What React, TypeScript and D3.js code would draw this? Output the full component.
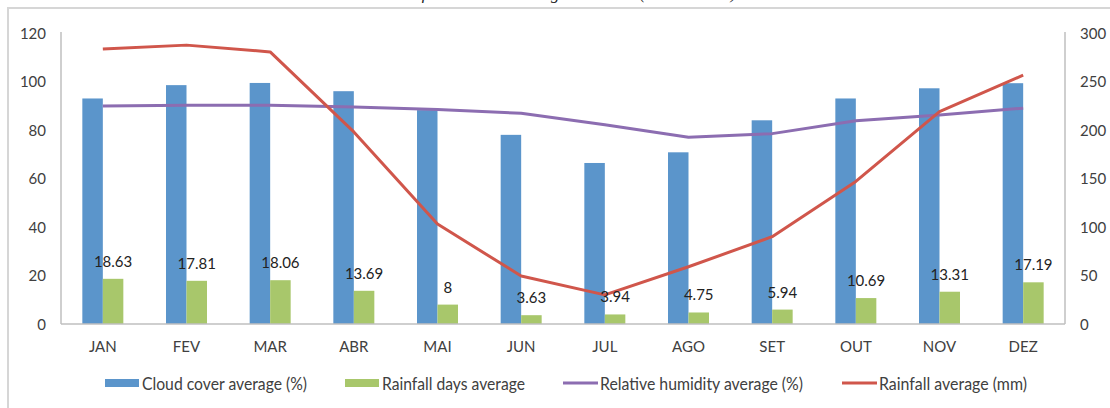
import React from "react";
import * as d3 from "d3";

// Monthly climate normals
const months = ["JAN", "FEV", "MAR", "ABR", "MAI", "JUN", "JUL", "AGO", "SET", "OUT", "NOV", "DEZ"];
const cloudCover = [93, 98.5, 99.4, 96, 88.2, 78, 66.4, 70.8, 84, 93, 97.2, 99.3];
const rainfallDays = [18.63, 17.81, 18.06, 13.69, 8, 3.63, 3.94, 4.75, 5.94, 10.69, 13.31, 17.19];
const humidity = [89.9, 90.2, 90.2, 89.5, 88.5, 86.9, 82.2, 77, 78.5, 83.8, 86.2, 89];
const rainfall = [283.5, 287.5, 280.5, 198, 103, 49.5, 30, 59, 90, 147, 219, 256.5];
const leftTicks = [0, 20, 40, 60, 80, 100, 120];
const rightTicks = [0, 50, 100, 150, 200, 250, 300];

const W = 1110;
const H = 408;
const plot = { left: 61, right: 1065, top: 33, bottom: 324 };

const C = {
  cloud: "#5b95cb",
  days: "#a8c76b",
  humidity: "#8c6db1",
  rain: "#d0564b",
  axis: "#bfbfbf",
  text: "#404040",
  frame: "#d6d6d6",
};

const FONT = "Lato, 'Open Sans', sans-serif";

export default function App() {
  const x = d3.scaleBand<string>().domain(months).range([plot.left, plot.right]);
  const bw = x.bandwidth();
  const groupW = bw * 0.49;
  const xs = d3
    .scaleBand<string>()
    .domain(["cloud", "days"])
    .range([(bw - groupW) / 2, (bw + groupW) / 2]);
  const yL = d3.scaleLinear().domain([0, 120]).range([plot.bottom, plot.top]);
  const yR = d3.scaleLinear().domain([0, 300]).range([plot.bottom, plot.top]);
  const cx = (m: string) => (x(m) as number) + bw / 2;

  const humLine = d3
    .line<number>()
    .x((_, i) => cx(months[i]))
    .y((d) => yL(d));
  const rainLine = d3
    .line<number>()
    .x((_, i) => cx(months[i]))
    .y((d) => yR(d));

  const legend = [
    { label: "Cloud cover average (%)", color: C.cloud, kind: "bar", x: 105, w: 165 },
    { label: "Rainfall days average", color: C.days, kind: "bar", x: 345, w: 143 },
    { label: "Relative humidity average (%)", color: C.humidity, kind: "line", x: 563, w: 203 },
    { label: "Rainfall average (mm)", color: C.rain, kind: "line", x: 842, w: 148 },
  ];

  return (
    <svg
      width={W}
      height={H}
      style={{ position: "absolute", left: 0, top: 0, display: "block", background: "#fff" }}
      fontFamily={FONT}
    >
      {/* caption line running off the top edge */}
      <text
        x={562}
        y={-1}
        textAnchor="middle"
        fontFamily="'Liberation Serif', serif"
        fontStyle="italic"
        fontSize={17}
        fill="#222"
      >
        Data from the meteorological station (INMET data).
      </text>

      {/* chart frame */}
      <rect x={8} y={8} width={W + 20} height={H + 20} fill="#fff" stroke={C.frame} strokeWidth={2} />

      {/* axes */}
      <line x1={plot.left} x2={plot.left} y1={plot.top - 1} y2={plot.bottom} stroke={C.axis} strokeWidth={1.5} />
      <line x1={plot.right} x2={plot.right} y1={plot.top - 1} y2={plot.bottom} stroke={C.axis} strokeWidth={1.5} />

      {leftTicks.map((t) => (
        <text key={"l" + t} x={46} y={yL(t) + 5.5} textAnchor="end" fontSize={15} fill={C.text}>
          {t}
        </text>
      ))}
      {rightTicks.map((t) => (
        <text key={"r" + t} x={1080} y={yR(t) + 5.5} textAnchor="start" fontSize={15} fill={C.text}>
          {t}
        </text>
      ))}

      {/* bars */}
      {months.map((m, i) => (
        <g key={m}>
          <rect
            x={(x(m) as number) + (xs("cloud") as number)}
            y={yL(cloudCover[i])}
            width={xs.bandwidth()}
            height={plot.bottom - yL(cloudCover[i])}
            fill={C.cloud}
          />
          <rect
            x={(x(m) as number) + (xs("days") as number)}
            y={yL(rainfallDays[i])}
            width={xs.bandwidth()}
            height={plot.bottom - yL(rainfallDays[i])}
            fill={C.days}
          />
        </g>
      ))}

      <line x1={plot.left} x2={plot.right} y1={plot.bottom} y2={plot.bottom} stroke={C.axis} strokeWidth={1.5} />

      {/* lines */}
      <path d={humLine(humidity) || ""} fill="none" stroke={C.humidity} strokeWidth={3} strokeLinejoin="round" />
      <path d={rainLine(rainfall) || ""} fill="none" stroke={C.rain} strokeWidth={3} strokeLinejoin="round" />

      {/* rainfall-days value labels */}
      {months.map((m, i) => (
        <text
          key={"v" + m}
          x={(x(m) as number) + (xs("days") as number) + xs.bandwidth() / 2}
          y={yL(rainfallDays[i]) - 12}
          textAnchor="middle"
          fontSize={15}
          fill="#222"
        >
          {String(rainfallDays[i])}
        </text>
      ))}

      {/* category labels */}
      {months.map((m) => (
        <text key={"c" + m} x={cx(m)} y={352} textAnchor="middle" fontSize={15} fill={C.text}>
          {m}
        </text>
      ))}

      {/* legend */}
      {legend.map((l) => (
        <g key={l.label}>
          {l.kind === "bar" ? (
            <rect x={l.x} y={379} width={34} height={8} fill={l.color} />
          ) : (
            <line x1={l.x} x2={l.x + 35} y1={383} y2={383} stroke={l.color} strokeWidth={3} />
          )}
          <text
            x={l.x + 37}
            y={390}
            fontSize={16.5}
            fill={C.text}
            textLength={l.w}
            lengthAdjust="spacingAndGlyphs"
          >
            {l.label}
          </text>
        </g>
      ))}
    </svg>
  );
}
